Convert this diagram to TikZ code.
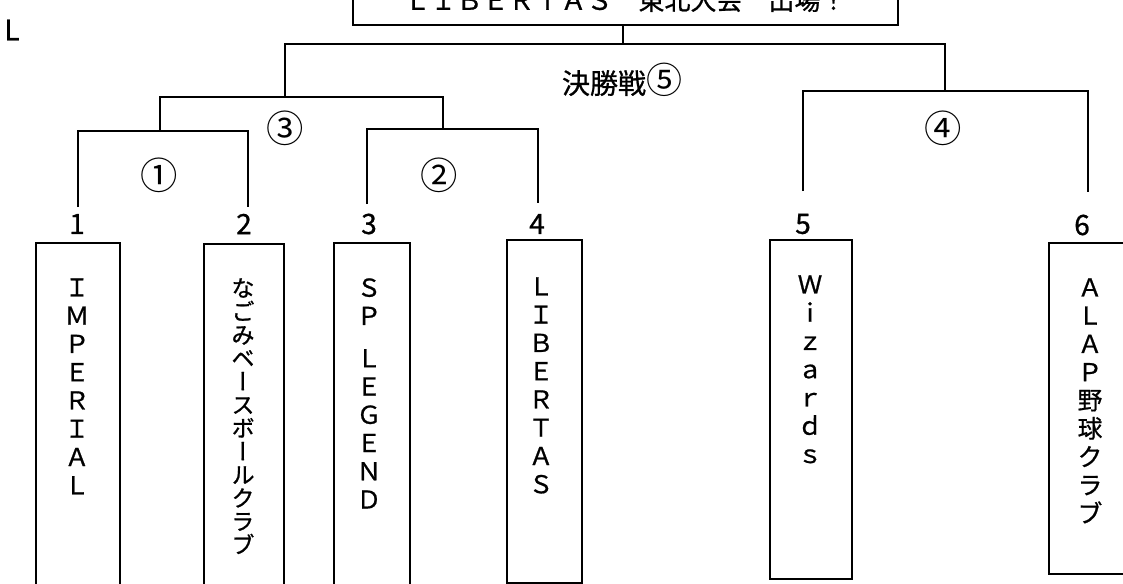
\documentclass[tikz,border=0pt]{standalone}
\usepackage{fontspec}
\setmainfont{Noto Sans CJK JP}[FakeBold=0.8]
\newfontfamily\tatefont{Noto Sans CJK JP}[RawFeature=+vert, FakeBold=0.8]
\newfontfamily\circfont{Noto Sans CJK JP}

\begin{document}
\begin{tikzpicture}[x=0.75pt, y=-0.75pt,
    teambox/.style={rectangle, draw, line width=1.4pt, anchor=north west, inner sep=0pt},
    teamname/.style={anchor=north, inner sep=0pt, align=center, font=\fontsize{18.5}{21.2}\selectfont},
    seed/.style={inner sep=0pt, font=\fontsize{21}{21}\selectfont},
    matchno/.style={inner sep=0pt, font=\circfont\fontsize{28}{28}\selectfont},
    bracket/.style={line width=1.4pt}]

\useasboundingbox (0,0) rectangle (1123,583);

% Title
\node[rectangle, draw, line width=1.4pt, minimum width=408.75pt, minimum height=37.5pt, font=\fontsize{19.5}{19.5}\selectfont] (title) at (625.5,0) {ＬＩＢＥＲＴＡＳ　東北大会　出場！};
\node[seed] (stray) at (12,30) {L};

% Seeds
\node[seed] (seed1) at (77,224) {1};
\node[seed] (seed2) at (244,224) {2};
\node[seed] (seed3) at (369,224) {3};
\node[seed] (seed4) at (537,224) {4};
\node[seed] (seed5) at (803,224) {5};
\node[seed] (seed6) at (1082,225) {6};

% Team boxes
\node[teambox, minimum width=63pt, minimum height=268.5pt] (box1) at (35,242) {};
\node[teambox, minimum width=60pt, minimum height=267.75pt] (box2) at (203,243) {};
\node[teambox, minimum width=57pt, minimum height=268.5pt] (box3) at (333,242) {};
\node[teambox, minimum width=56.25pt, minimum height=257.25pt] (box4) at (506,239) {};
\node[teambox, minimum width=61.5pt, minimum height=254.25pt] (box5) at (769,239) {};
\node[teambox, minimum width=61.5pt, minimum height=248.25pt] (box6) at (1048,242) {};

% Team names
\node[teamname] (name1) at (77,278) {Ｉ\\Ｍ\\Ｐ\\Ｅ\\Ｒ\\Ｉ\\Ａ\\Ｌ};
\node[teamname, font=\tatefont\fontsize{17.5}{17.5}\selectfont] (name2) at (243,278) {な\\ご\\み\\ベ\\ー\\ス\\ボ\\ー\\ル\\ク\\ラ\\ブ};
\node[teamname] (name3) at (369,278) {Ｓ\\Ｐ\\[10.5pt]Ｌ\\Ｅ\\Ｇ\\Ｅ\\Ｎ\\Ｄ};
\node[teamname] (name4) at (541,277) {Ｌ\\Ｉ\\Ｂ\\Ｅ\\Ｒ\\Ｔ\\Ａ\\Ｓ};
\node[teamname] (name5) at (810,275) {Ｗ\\ｉ\\ｚ\\ａ\\ｒ\\ｄ\\ｓ};
\node[teamname] (name6) at (1090,278) {Ａ\\Ｌ\\Ａ\\Ｐ\\野\\球\\ク\\ラ\\ブ};

% Bracket joints
\coordinate (t1) at (78,207);
\coordinate (t2) at (248,207);
\coordinate (t3) at (367,204);
\coordinate (t4) at (538,203);
\coordinate (t5) at (803,191);
\coordinate (t6) at (1088,192);
\coordinate (m1) at (160,131);
\coordinate (m2) at (443,129);
\coordinate (m3) at (285,97);
\coordinate (m4) at (945,91);
\coordinate (fin) at (623,44);

% Brackets
\draw[bracket] (t1) |- (m1) -| (t2);
\draw[bracket] (t3) |- (m2) -| (t4);
\draw[bracket] (m1) |- (m3) -| (m2);
\draw[bracket] (t5) |- (m4) -| (t6);
\draw[bracket] (m3) |- (fin) -| (m4);
\draw[bracket] (fin) -- (fin |- title.south);

% Match numbers
\node[matchno] (match1) at (159,175) {①};
\node[matchno] (match2) at (439,175) {②};
\node[matchno] (match3) at (285,128) {③};
\node[matchno] (match4) at (943,128) {④};
\node[matchno, font=\fontsize{21}{21}\selectfont] (match5) at (622,80) {決勝戦{\circfont\fontsize{27}{27}\selectfont ⑤}};
\end{tikzpicture}
\end{document}
